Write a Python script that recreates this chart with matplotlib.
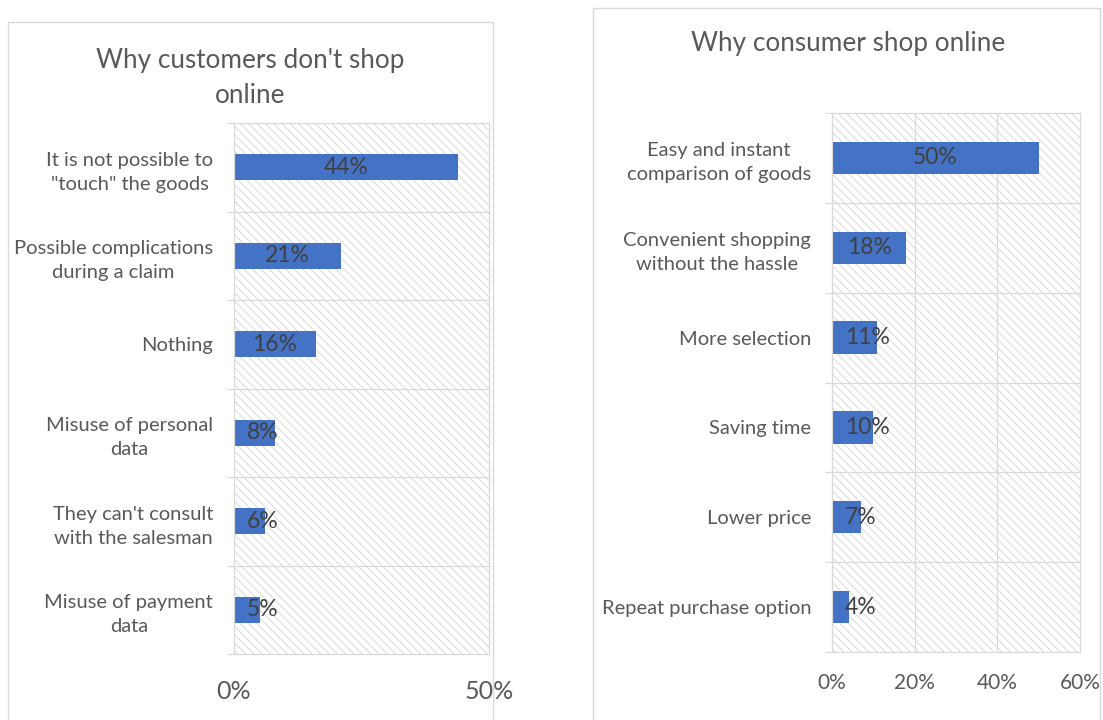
import matplotlib
matplotlib.use("Agg")
import matplotlib.pyplot as plt
from matplotlib.patches import Rectangle
from matplotlib.ticker import FixedLocator

# Survey results (percent of respondents)
dont_shop_reasons = [
    "It is not possible to\n\"touch\" the goods",
    "Possible complications\nduring a claim",
    "Nothing",
    "Misuse of personal\ndata",
    "They can't consult\nwith the salesman",
    "Misuse of payment\ndata",
]
dont_shop_values = [44, 21, 16, 8, 6, 5]
dont_shop_ticks = [0, 50]

shop_reasons = [
    "Easy and instant\ncomparison of goods",
    "Convenient shopping\nwithout the hassle",
    "More selection",
    "Saving time",
    "Lower price",
    "Repeat purchase option",
]
shop_values = [50, 18, 11, 10, 7, 4]
shop_ticks = [0, 20, 40, 60]

BAR = "#4472C4"
GRID = "#d9d9d9"
TEXT = "#595959"
LABEL = "#404040"
HATCH = "#d2d2d2"

plt.rcParams["font.family"] = ["Lato", "DejaVu Sans"]
plt.rcParams["hatch.linewidth"] = 0.6

W, H = 1103, 720
fig = plt.figure(figsize=(W / 100, H / 100), dpi=100)


def px_box(x0, y0, x1, y1):
    return [x0 / W, 1 - y1 / H, (x1 - x0) / W, (y1 - y0) / H]


# panel frames
for (x0, y0, x1, y1) in [(8, 22, 493, 730), (593, 8, 1100, 730)]:
    fig.patches.append(Rectangle((x0 / W, 1 - y1 / H), (x1 - x0) / W, (y1 - y0) / H,
                                 transform=fig.transFigure, facecolor="none",
                                 edgecolor=GRID, lw=1.0, zorder=0))


def draw_panel(rect, cats, vals, ticks, bar_h, tick_fs, tick_pad, vgrid):
    ax = fig.add_axes(rect)
    n = len(cats)
    ypos = list(range(n))
    ax.set_xlim(ticks[0], ticks[-1])
    ax.set_ylim(n - 0.5, -0.5)
    # hatched plot area
    ax.add_patch(Rectangle((0, 0), 1, 1, transform=ax.transAxes, facecolor="white",
                           edgecolor=HATCH, hatch="\\\\\\\\", lw=0, zorder=0))
    for s in ax.spines.values():
        s.set_color(GRID)
        s.set_linewidth(0.9)
    # category separators
    for b in [i + 0.5 for i in range(n - 1)]:
        ax.axhline(b, color=GRID, lw=0.9, zorder=1)
    if vgrid:
        for t in ticks[1:-1]:
            ax.axvline(t, color=GRID, lw=0.9, zorder=1)
    ax.barh(ypos, vals, height=bar_h, color=BAR, zorder=2)

    ax.set_yticks(ypos)
    ax.set_yticklabels(cats, fontsize=14.5, color=TEXT, multialignment="center",
                       linespacing=1.5)
    ax.yaxis.set_minor_locator(FixedLocator([i - 0.5 for i in range(n + 1)]))
    ax.tick_params(axis="y", which="major", length=0, pad=15)
    ax.tick_params(axis="y", which="minor", length=5, color=GRID, width=0.9)
    ax.set_xticks(ticks)
    ax.set_xticklabels([f"{t}%" for t in ticks], fontsize=tick_fs, color=TEXT)
    ax.tick_params(axis="x", length=0, pad=tick_pad)

    # value labels: centred in the bar, kept clear of the axis line
    texts = []
    for y, v in zip(ypos, vals):
        texts.append(ax.text(v / 2, y, f"{v}%", ha="center", va="center",
                             fontsize=16.5, color=LABEL, zorder=3))
    fig.canvas.draw()
    r = fig.canvas.get_renderer()
    ax_left = ax.get_window_extent(r).x0
    for t, y in zip(texts, ypos):
        bb = t.get_window_extent(r)
        if bb.x0 < ax_left + 13:
            t.set_visible(False)
            ax.annotate(t.get_text(), xy=(0, y), xytext=(13, 0),
                        textcoords="offset pixels", ha="left", va="center",
                        fontsize=16.5, color=LABEL, zorder=3)
    return ax


ax1 = draw_panel(px_box(234, 123, 489, 654), dont_shop_reasons, dont_shop_values,
                 dont_shop_ticks, 0.29, 18, 19, False)
ax2 = draw_panel(px_box(832, 113, 1080, 652), shop_reasons, shop_values,
                 shop_ticks, 0.36, 15, 15, True)

fig.text(250 / W, 1 - 78 / H, "Why customers don't shop\nonline", ha="center",
         va="center", fontsize=18.8, color=TEXT, linespacing=1.52)
fig.text(848 / W, 1 - 44 / H, "Why consumer shop online", ha="center",
         va="center", fontsize=18.8, color=TEXT)

fig.savefig("out.png", dpi=100)
